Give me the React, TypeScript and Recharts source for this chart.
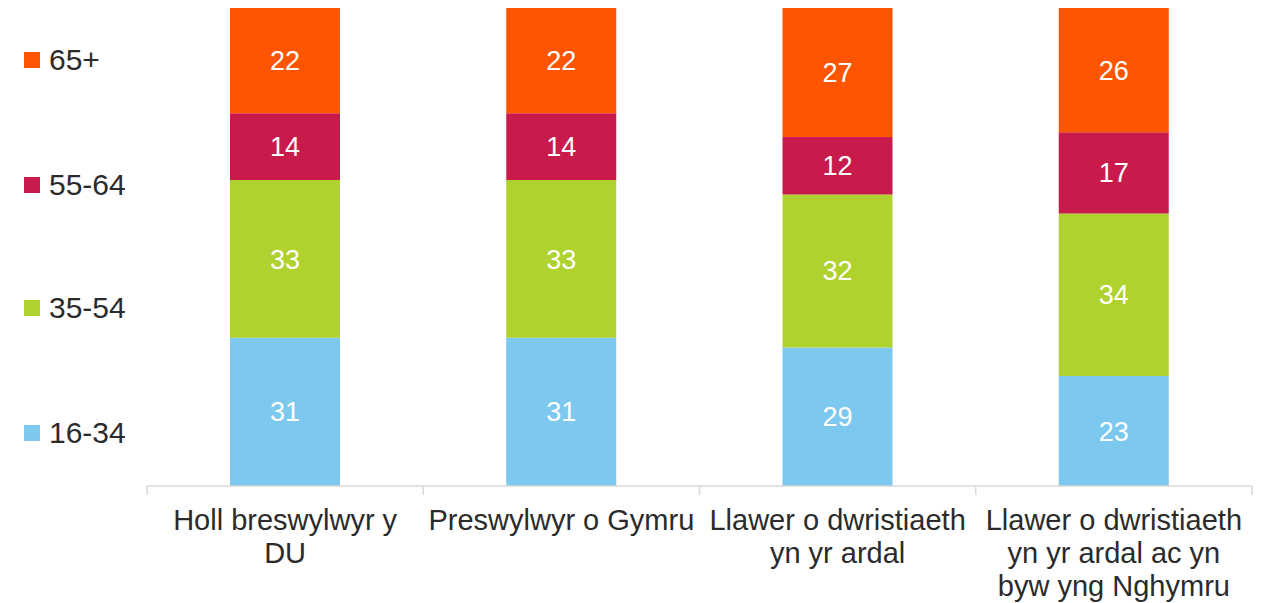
import React from 'react';
import { BarChart, Bar, XAxis, YAxis, LabelList, Legend } from 'recharts';

const categories = [
  'Holl breswylwyr y\nDU',
  'Preswylwyr o Gymru',
  'Llawer o dwristiaeth\nyn yr ardal',
  'Llawer o dwristiaeth\nyn yr ardal ac yn\nbyw yng Nghymru',
];
const age16to34 = [31, 31, 29, 23];
const age35to54 = [33, 33, 32, 34];
const age55to64 = [14, 14, 12, 17];
const age65plus = [22, 22, 27, 26];

const seriesKeys = ['a16', 'a35', 'a55', 'a65'];
const seriesNames = ['16-34', '35-54', '55-64', '65+'];
const seriesColors = ['#7DC8EE', '#B0D22E', '#C81A4B', '#FF5500'];

const data = categories.map((c, i) => ({
  name: c,
  a16: age16to34[i],
  a35: age35to54[i],
  a55: age55to64[i],
  a65: age65plus[i],
}));

const W = 1263;
const H = 603;
const ML = 147;
const MR = 11;
const CAT_W = (W - ML - MR) / categories.length;
const FONT = '"Liberation Sans", Arial, sans-serif';

const Tick = (props: any) => {
  const { x, y, payload, index } = props;
  const lines = String(payload.value).split('\n');
  const left = x - CAT_W / 2;
  const right = x + CAT_W / 2;
  return (
    <g>
      <line x1={left} x2={left} y1={y} y2={y + 9} stroke="#D9D9D9" strokeWidth={1.5} />
      {index === categories.length - 1 && (
        <line x1={right} x2={right} y1={y} y2={y + 9} stroke="#D9D9D9" strokeWidth={1.5} />
      )}
      <text x={x} y={y + 44} textAnchor="middle" fill="#2b2b2b" fontSize={29} fontFamily={FONT}>
        {lines.map((l, i) => (
          <tspan key={i} x={x} dy={i === 0 ? 0 : 33}>
            {l}
          </tspan>
        ))}
      </text>
    </g>
  );
};

const legendCenters = [433, 308, 185, 60];

const LegendContent = () => (
  <div style={{ position: 'relative', width: 147, height: 480 }}>
    {seriesNames.map((n, i) => (
      <div
        key={n}
        style={{
          position: 'absolute',
          left: 24,
          top: legendCenters[i] - 18,
          height: 36,
          display: 'flex',
          alignItems: 'center',
          fontFamily: FONT,
          fontSize: 30,
          color: '#2b2b2b',
          whiteSpace: 'nowrap',
        }}
      >
        <span style={{ display: 'inline-block', width: 16, height: 16, background: seriesColors[i], marginRight: 9 }} />
        {n}
      </div>
    ))}
  </div>
);

export default function App() {
  return (
    <div style={{ position: 'absolute', left: 0, top: 0, width: W, height: H, background: '#fff' }}>
      <BarChart
        width={W}
        height={H}
        data={data}
        margin={{ top: 8, right: MR, left: ML, bottom: 0 }}
      >
        <XAxis
          dataKey="name"
          height={117}
          tickSize={0}
          tickMargin={0}
          tickLine={false}
          axisLine={{ stroke: '#D9D9D9', strokeWidth: 1.5 }}
          tick={<Tick />}
          interval={0}
        />
        <YAxis hide domain={[0, 100]} />
        <Legend
          layout="vertical"
          align="center"
          verticalAlign="middle"
          content={<LegendContent />}
          wrapperStyle={{ position: 'absolute', left: 0, top: 0, width: 147, height: 480 }}
        />
        {seriesKeys.map((k, i) => (
          <Bar key={k} dataKey={k} name={seriesNames[i]} stackId="s" fill={seriesColors[i]} barSize={110} isAnimationActive={false}>
            <LabelList dataKey={k} position="center" fill="#FFFFFF" fontSize={27} fontFamily={FONT} />
          </Bar>
        ))}
      </BarChart>
    </div>
  );
}
